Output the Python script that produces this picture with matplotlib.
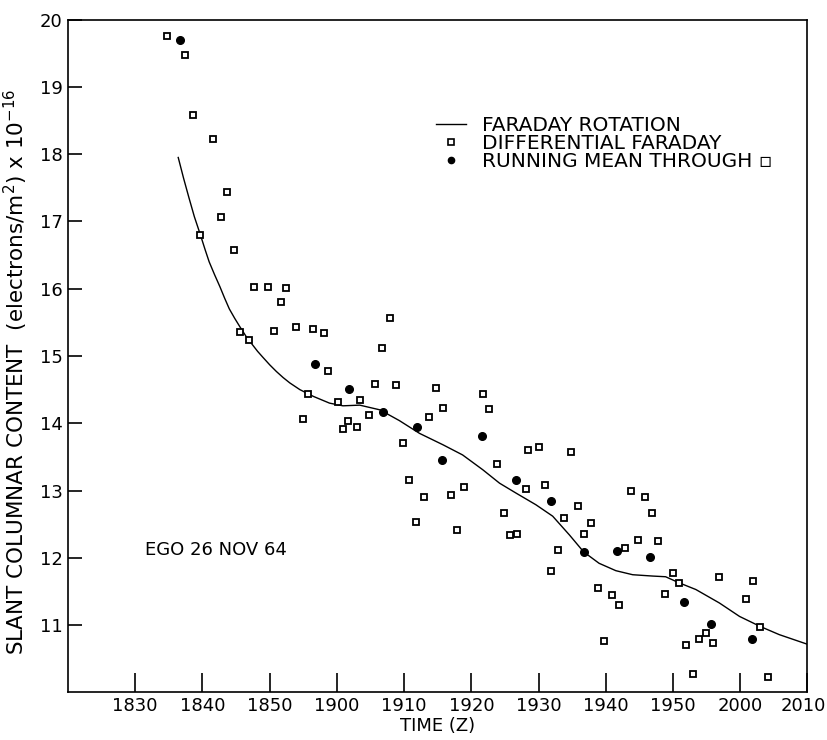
import matplotlib
matplotlib.use("Agg")
import matplotlib.pyplot as plt
from matplotlib.lines import Line2D
from matplotlib.transforms import ScaledTranslation

# time in minutes after 1800 Z
curve_t = [36.4, 37.2, 38.0, 38.8, 39.7, 40.4, 41.0, 41.8, 42.6, 43.3, 44.0, 44.8,
           45.6, 46.5, 47.5, 48.2, 49.0, 50.0, 51.0, 52.0, 53.0, 54.5,
           56.5, 58.9, 60.9, 63.4, 66.4, 69.3, 72.3, 75.8, 78.7, 81.7, 84.2, 86.7,
           89.6, 92.1, 94.6, 96.7, 99.0, 101.5, 104.0, 107.0, 108.9, 110.9, 113.4,
           116.9, 119.9, 123.0, 125.8, 129.9]
curve_n = [17.95, 17.64, 17.35, 17.07, 16.80, 16.58, 16.40, 16.21, 16.03, 15.86, 15.70, 15.56,
           15.43, 15.29, 15.16, 15.07, 14.98, 14.87, 14.77, 14.68, 14.60, 14.50,
           14.40, 14.30, 14.26, 14.27, 14.20, 14.04, 13.85, 13.68, 13.53, 13.31, 13.11, 12.96,
           12.79, 12.62, 12.34, 12.09, 11.92, 11.81, 11.75, 11.73, 11.72, 11.63, 11.53,
           11.33, 11.13, 10.98, 10.86, 10.72]

diff_t = [34.7, 37.4, 38.6, 41.5, 43.6, 42.7, 39.7, 44.7, 47.7, 49.7, 52.4, 51.7,
          67.9, 45.6, 46.9, 50.6, 53.9, 56.5, 58.1, 66.7, 58.7, 65.7, 68.8, 74.8,
          55.7, 60.1, 63.4, 75.8, 54.9, 64.8, 61.6, 60.9, 63.0, 73.7, 69.9, 70.8,
          73.0, 77.0, 71.8, 78.9, 77.8, 81.8, 82.7, 83.8, 84.8, 85.8, 86.8, 88.4,
          90.1, 88.1, 91.0, 94.8, 95.8, 93.8, 97.8, 96.8, 92.9, 91.9, 98.9, 100.9,
          101.9, 103.8, 105.8, 106.8, 104.8, 102.9, 107.7, 99.8, 110.0, 110.9, 108.8,
          116.9, 121.9, 120.9, 123.0, 114.9, 113.9, 115.9, 111.9, 113.0, 124.1]
diff_n = [19.75, 19.48, 18.58, 18.23, 17.44, 17.07, 16.80, 16.58, 16.02, 16.02, 16.01, 15.81,
          15.56, 15.35, 15.24, 15.37, 15.43, 15.40, 15.34, 15.12, 14.78, 14.58, 14.57, 14.53,
          14.43, 14.32, 14.34, 14.23, 14.06, 14.12, 14.03, 13.91, 13.95, 14.10, 13.71, 13.16,
          12.91, 12.94, 12.53, 13.05, 12.42, 14.43, 14.21, 13.39, 12.66, 12.34, 12.35, 13.60,
          13.65, 13.03, 13.08, 13.58, 12.77, 12.60, 12.52, 12.36, 12.12, 11.80, 11.55, 11.45,
          11.30, 12.99, 12.90, 12.66, 12.27, 12.14, 12.25, 10.76, 11.77, 11.63, 11.47,
          11.72, 11.66, 11.39, 10.98, 10.89, 10.80, 10.74, 10.71, 10.27, 10.23]

mean_t = [36.6, 56.7, 61.8, 66.8, 71.9, 75.7, 81.6, 86.6, 91.8, 96.7, 101.6, 106.6,
          111.7, 115.7, 121.7]
mean_n = [19.70, 14.88, 14.51, 14.17, 13.95, 13.45, 13.81, 13.16, 12.84, 12.09, 12.10, 12.01,
          11.35, 11.02, 10.80]

xtick_pos = [30, 40, 50, 60, 70, 80, 90, 100, 110, 120, 130]
xtick_labels = ["1830", "1840", "1850", "1900", "1910", "1920", "1930", "1940",
                "1950", "2000", "2010"]
ytick_pos = [11, 12, 13, 14, 15, 16, 17, 18, 19, 20]

fig = plt.figure(figsize=(8.28, 7.4), dpi=100)
ax = fig.add_axes([0.0821, 0.0642, 0.8931, 0.9094])

ax.plot(curve_t, curve_n, color="black", lw=1.0)
ax.plot(diff_t, diff_n, ls="none", marker="s", ms=5, mfc="white", mec="black", mew=1.3)
ax.plot(mean_t, mean_n, ls="none", marker="o", ms=5.5, color="black")

ax.set_xlim(20, 130)
ax.set_ylim(10, 20)
ax.set_xticks(xtick_pos)
ax.set_xticklabels(xtick_labels)
ax.set_yticks(ytick_pos)
ax.set_yticklabels([str(v) for v in ytick_pos])
ax.tick_params(axis="x", direction="in", length=14, width=1.2, labelsize=13, pad=3)
ax.tick_params(axis="y", direction="in", length=10, width=1.2, labelsize=13, pad=4)
for s in ax.spines.values():
    s.set_linewidth(1.2)

# last label sits on the right edge; nudge it in a little
last = ax.get_xticklabels()[-1]
last.set_transform(last.get_transform() + ScaledTranslation(-4 / 100, 0, fig.dpi_scale_trans))

ax.set_xlabel("TIME (Z)", fontsize=13, labelpad=2)
ax.set_ylabel("SLANT COLUMNAR CONTENT  (electrons/m$^2$) x 10$^{-16}$", fontsize=15.5)
ax.yaxis.set_label_coords(-0.052, 0.476)

ax.text(31.4, 12.12, "EGO 26 NOV 64", fontsize=13, va="center", ha="left")

handles = [
    Line2D([], [], color="black", lw=1.0),
    Line2D([], [], ls="none", marker="s", ms=4, mfc="white", mec="black", mew=1.2),
    Line2D([], [], ls="none", marker="o", ms=4.5, color="black"),
]
labels = ["FARADAY ROTATION", "DIFFERENTIAL FARADAY", "RUNNING MEAN THROUGH \u25ab"]
ax.legend(handles, labels, loc="upper left", bbox_to_anchor=(0.498, 0.856), frameon=False,
          fontsize=14.5, handlelength=1.5, handletextpad=0.75, labelspacing=-0.05,
          borderpad=0, borderaxespad=0)

fig.savefig("out.png", dpi=100)
